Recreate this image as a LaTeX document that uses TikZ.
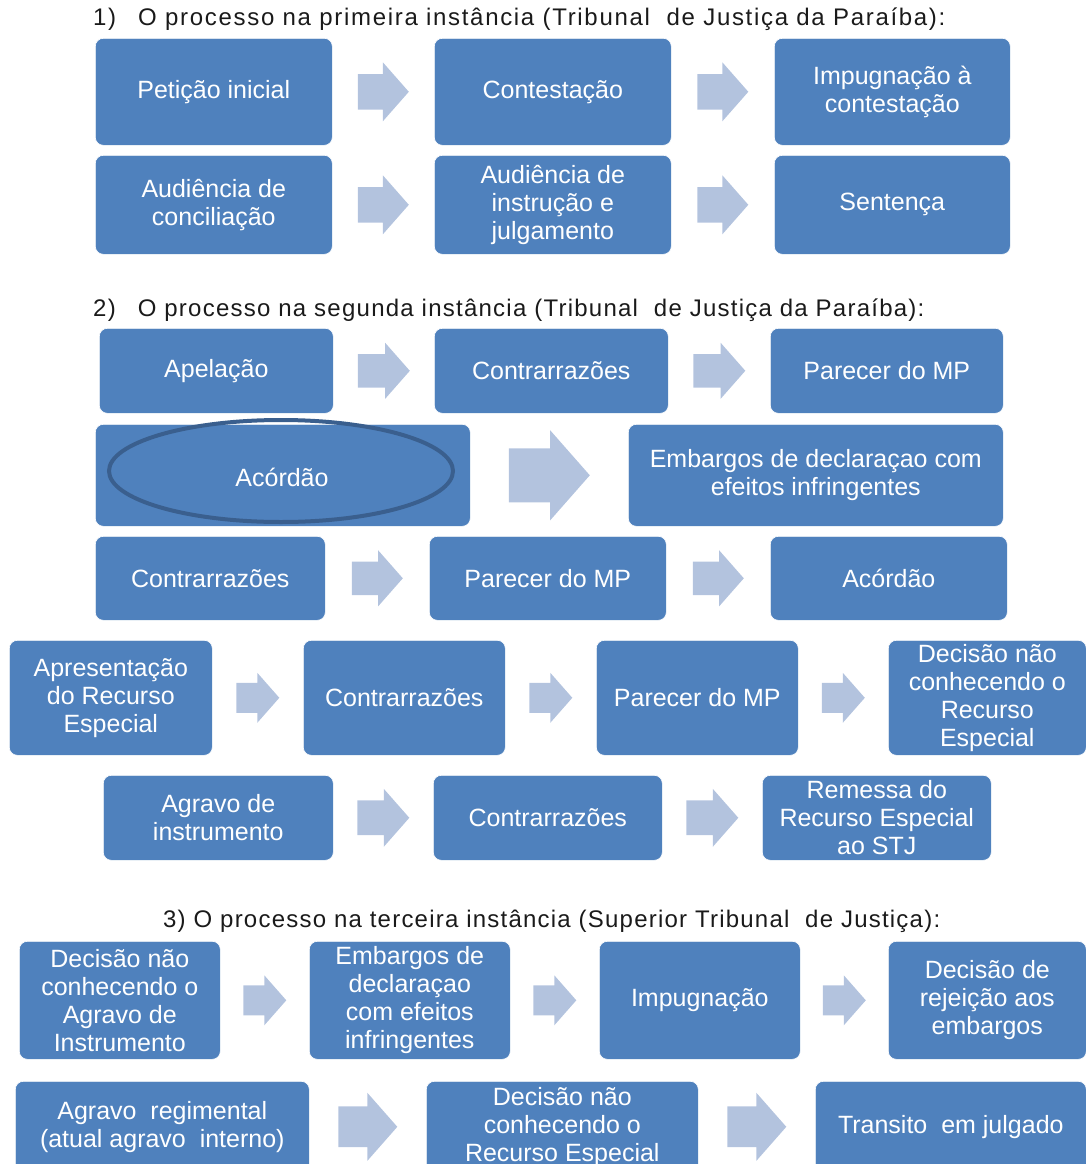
\documentclass[tikz,border=0pt]{standalone}
\usepackage{fontspec}
\setmainfont{Liberation Sans}
\usetikzlibrary{calc,shapes.geometric}
\definecolor{boxc}{HTML}{4F81BD}
\definecolor{arrowc}{HTML}{B3C3DE}
\definecolor{ellc}{HTML}{3A5F8E}
\definecolor{titlec}{HTML}{1A1A1A}
\newcommand\boxfont{\fontsize{25}{28}\selectfont}
\newfontfamily\titleA[LetterSpace=7]{Liberation Sans}
\newfontfamily\titleB[LetterSpace=5.2]{Liberation Sans}
\newfontfamily\titleC[LetterSpace=5.1]{Liberation Sans}
\tikzset{
  box/.style={rectangle, rounded corners=8pt, fill=boxc, draw=white, line width=0.6pt,
    text=white, font=\boxfont, align=center, inner sep=0pt, anchor=north west},
  ttl/.style={text=titlec, anchor=west, inner sep=0pt},
}
% box: name, x1, y1, x2, y2, text
\newcommand\bx[6]{\node[box, minimum width={(#4-#2)*1pt}, minimum height={(#5-#3)*1pt}] (#1) at (#2,#3) {#6};}
% block arrow between boxes: from, to, length, height
\newcommand\barrow[4]{\fill[arrowc] ($(#1.east)!0.5!(#2.west)$) ++({-#3/2},{0.3*#4}) -- ++({#3-0.44*#4},0) -- ++(0,{0.2*#4}) -- ++({0.44*#4},{-0.5*#4}) -- ++({-0.44*#4},{-0.5*#4}) -- ++(0,{0.2*#4}) -- ++({-(#3-0.44*#4)},0) -- cycle;}
\begin{document}
\begin{tikzpicture}[x=1pt,y=-1pt]
\useasboundingbox (0,0) rectangle (1086,1164);
\clip (0,0) rectangle (1086,1164);
% ---------- Section 1
\node[ttl, font={\titleA\fontsize{24}{28}\selectfont}] (t1) at (93,19) {1)\hspace{22pt}O processo na primeira instância (Tribunal\ \ de Justiça da Paraíba):};
\bx{a1}{95}{38}{332}{145}{Petição inicial}
\bx{a2}{434}{38}{671}{145}{Contestação}
\bx{a3}{774}{38}{1010}{145}{Impugnação à\\contestação}
\barrow{a1}{a2}{51}{59}
\barrow{a2}{a3}{51}{59}
\bx{b1}{95}{155}{332}{254}{Audiência de\\conciliação}
\bx{b2}{434}{155}{671}{254}{Audiência de\\instrução e\\julgamento}
\bx{b3}{774}{155}{1010}{254}{Sentença}
\barrow{b1}{b2}{51}{59}
\barrow{b2}{b3}{51}{59}
% ---------- Section 2
\node[ttl, font={\titleB\fontsize{24}{28}\selectfont}] (t2) at (93,310) {2)\hspace{22pt}O processo na segunda instância (Tribunal\ \ de Justiça da Paraíba):};
\bx{c1}{99}{328}{333}{413}{Apelação}
\bx{c2}{434}{328}{668}{413}{Contrarrazões}
\bx{c3}{770}{328}{1003}{413}{Parecer do MP}
\barrow{c1}{c2}{52}{56}
\barrow{c2}{c3}{52}{56}
\bx{d1}{95}{424}{470}{526}{}
\draw[ellc, line width=4pt] (281,471) ellipse [x radius=172, y radius=51];
\node[text=white, font=\boxfont, inner sep=0pt] (d1t) at (282,477) {Acórdão};
\bx{d2}{628}{424}{1003}{526}{Embargos de declaraçao com\\efeitos infringentes}
\barrow{d1}{d2}{81}{90}
\bx{e1}{95}{536}{325}{620}{Contrarrazões}
\bx{e2}{429}{536}{666}{620}{Parecer do MP}
\bx{e3}{770}{536}{1007}{620}{Acórdão}
\barrow{e1}{e2}{51}{56}
\barrow{e2}{e3}{51}{56}
\bx{f1}{9}{640}{212}{755}{Apresentação\\do Recurso\\Especial}
\bx{f2}{303}{640}{505}{755}{Contrarrazões}
\bx{f3}{596}{640}{798}{755}{Parecer do MP}
\bx{f4}{888}{640}{1086}{755}{Decisão não\\conhecendo o\\Recurso\\Especial}
\barrow{f1}{f2}{43}{50}
\barrow{f2}{f3}{43}{50}
\barrow{f3}{f4}{43}{50}
\bx{g1}{103}{775}{333}{860}{Agravo de\\instrumento}
\bx{g2}{433}{775}{662}{860}{Contrarrazões}
\bx{g3}{762}{775}{991}{860}{Remessa do\\Recurso Especial\\ao STJ}
\barrow{g1}{g2}{52}{58}
\barrow{g2}{g3}{52}{58}
% ---------- Section 3
\node[ttl, font={\titleC\fontsize{24}{28}\selectfont}] (t3) at (163,921) {3) O processo na terceira instância (Superior Tribunal\ \ de Justiça):};
\bx{h1}{19}{941}{220}{1059}{Decisão não\\conhecendo o\\Agravo de\\Instrumento}
\bx{h2}{309}{941}{510}{1059}{Embargos de\\declaraçao\\com efeitos\\infringentes}
\bx{h3}{599}{941}{800}{1059}{Impugnação}
\bx{h4}{888}{941}{1086}{1059}{Decisão de\\rejeição aos\\embargos}
\barrow{h1}{h2}{43}{50}
\barrow{h2}{h3}{43}{50}
\barrow{h3}{h4}{43}{50}
\bx{k1}{15}{1081}{309}{1172}{Agravo\ \ regimental\\(atual agravo\ \ interno)}
\bx{k2}{426}{1081}{698}{1172}{Decisão não\\conhecendo o\\Recurso Especial}
\bx{k3}{815}{1081}{1086}{1172}{Transito\ \ em julgado}
\barrow{k1}{k2}{59}{68}
\barrow{k2}{k3}{59}{68}
\end{tikzpicture}
\end{document}
